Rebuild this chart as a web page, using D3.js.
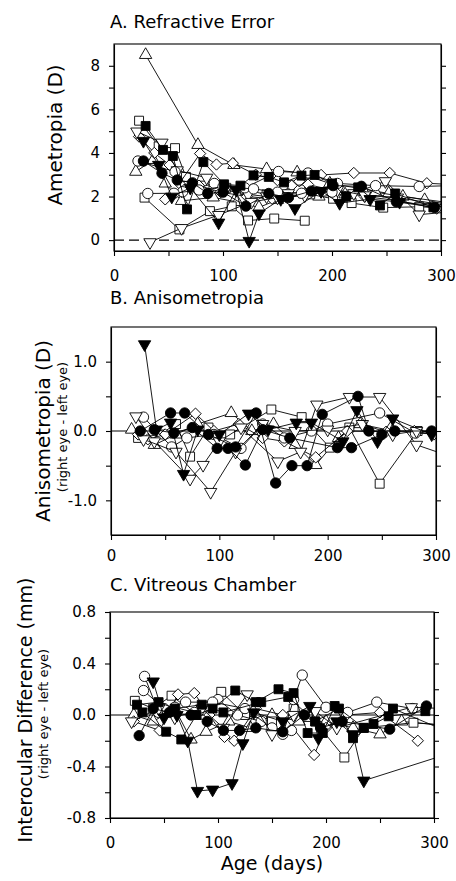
<!DOCTYPE html>
<html lang="en">
<head>
<meta charset="UTF-8">
<title>Refractive Error, Anisometropia, Vitreous Chamber</title>
<script src="https://d3js.org/d3.v7.min.js"></script>
<style>
  body { margin: 0; background: #fff; }
  svg { display: block; font-family: "DejaVu Sans", sans-serif; }
  .axis path, .axis line { stroke: #000; stroke-width: 1.1; }
  .axis text { font-size: 15px; fill: #000; font-family: "DejaVu Sans", sans-serif; }
  .title { font-size: 18px; fill: #000; }
  .ylab { font-size: 20px; fill: #000; }
  .ysub { font-size: 13px; fill: #000; }
  .xlab { font-size: 19px; fill: #000; }
  .series-line { fill: none; stroke: #000; stroke-width: 0.9; }
  .frame { fill: none; stroke: #000; stroke-width: 1.1; }
</style>
</head>
<body>
<svg id="chart" width="456" height="881"></svg>
<script>
// ---- data: [age in days, value] ----
// A. Refractive error (D)
const aTriUp1 = [[29,8.5],[77,4.37],[110,3.45],[140,3.26],[168,3.11],[198,2.6],[228,2.35],[252,2.14],[285,1.84],[310,1.6]];
const aTriUp2 = [[20,3.14],[36,3.68],[47,2.6],[62,1.8],[91,1.96],[113,1.75],[133,1.5],[150,1.85],[175,2.1],[188,2.0],[212,2.1],[240,2.2],[265,2.0],[310,1.7]];
const aSqOpen1 = [[23,5.48],[41,4.3],[56,4.22],[66,2.9],[83,2.5],[103,2.4],[120,2.3],[140,2.1],[160,2.05],[180,2.1],[201,1.9],[218,1.7],[247,1.49],[280,1.53],[310,1.45]];
const aSqOpen2 = [[28,1.95],[60,0.49],[88,1.33],[108,1.55],[123,0.9],[147,0.99],[175,0.89]];
const aSqFill = [[29,5.24],[45,4.14],[54,3.86],[67,1.41],[82,3.58],[101,2.56],[116,2.5],[128,2.97],[142,2.9],[156,2.65],[172,2.96],[184,2.99],[200,2.6],[213,2.0],[224,2.42],[244,1.59],[258,2.14],[293,1.5]];
const aDiam1 = [[23,4.75],[37,4.0],[51,3.45],[60,2.6],[79,3.97],[94,3.47],[109,3.53],[130,3.0],[150,2.75],[170,2.7],[190,2.99],[220,3.08],[253,3.08],[287,2.61],[310,2.55]];
const aDiam2 = [[47,1.87],[62,2.2],[78,2.5],[98,2.2],[122,2.0],[145,1.9],[163,2.5],[178,2.55],[200,2.3],[230,2.0],[262,1.8],[296,1.45]];
const aTriDnFill = [[27,4.55],[41,3.45],[53,1.99],[70,2.4],[96,0.8],[112,2.3],[124,-0.04],[133,1.22],[153,1.88],[166,1.46],[190,2.25],[207,1.7],[235,1.88],[262,1.75],[310,1.5]];
const aTriDnOpen1 = [[21,4.98],[44,4.47],[58,3.2],[85,2.86],[102,2.3],[123,2.1],[140,2.0],[160,2.15],[190,2.25],[220,2.15],[249,2.7],[280,1.17],[310,1.3]];
const aTriDnOpen2 = [[33,-0.1],[62,0.55],[96,1.15],[126,1.75],[150,1.95],[175,2.05],[205,2.3],[230,2.05],[260,1.95],[310,1.55]];
const aCircOpen1 = [[22,3.63],[56,3.14],[63,2.22],[92,2.6],[120,2.4],[151,3.15],[178,3.08],[205,2.6],[240,2.5],[280,2.46],[310,2.5]];
const aCircOpen2 = [[31,2.14],[55,2.15],[78,2.3],[100,2.45],[128,2.35],[150,2.2],[172,2.15],[200,2.2]];
const aCircFill = [[27,3.63],[44,3.07],[58,2.76],[72,2.63],[86,2.14],[100,2.2],[121,1.56],[142,2.14],[160,1.95],[181,2.25],[201,2.5],[227,2.47],[259,1.76],[294,1.5]];

// B. Anisometropia (D), right eye - left eye
const bTriDnFill = [[31,1.25],[42,0.02],[55,0.12],[67,-0.62],[80,0.02],[100,-0.05],[127,0.25],[145,0.02],[171,0.12],[185,0.12],[214,-0.15],[227,0.3],[246,-0.15],[260,0.18],[296,-0.05]];
const bCircFill1 = [[27,0.0],[55,0.26],[68,0.26],[90,-0.05],[115,-0.23],[134,0.26],[152,-0.75],[167,-0.5],[181,-0.5],[195,0.24],[228,0.5],[238,0.0],[262,0.0],[296,0.0]];
const bCircFill2 = [[40,0.02],[58,-0.03],[75,0.05],[98,-0.25],[108,-0.25],[124,-0.49],[140,0.02],[165,-0.1],[209,-0.24],[222,-0.24],[250,-0.05]];
const bTriDnOpen1 = [[23,0.21],[40,-0.15],[73,-0.69],[85,-0.49],[100,-0.15],[120,0.05],[154,-0.44],[175,-0.3],[190,0.38],[220,0.49],[248,0.49],[282,-0.2],[310,-0.35]];
const bTriDnOpen2 = [[30,-0.12],[60,-0.3],[92,-0.88],[115,-0.3],[140,0.1],[170,0.0],[200,0.02],[232,0.1],[260,-0.05],[282,0.0]];
const bSqOpen = [[25,-0.1],[45,-0.05],[60,0.1],[73,-0.37],[90,0.05],[110,-0.05],[148,0.31],[176,0.2],[202,-0.24],[220,0.05],[248,-0.76],[283,0.0],[310,-0.02]];
const bDiam = [[25,-0.05],[34,-0.12],[50,-0.05],[78,0.25],[95,0.0],[118,0.1],[140,-0.1],[160,-0.15],[189,-0.38],[218,0.0],[254,-0.01],[280,0.0],[298,-0.05]];
const bTriUp = [[19,0.02],[40,-0.2],[60,-0.05],[80,0.1],[111,0.26],[130,0.0],[150,0.1],[170,-0.2],[189,-0.49],[210,-0.1],[230,0.1],[260,0.0]];
const bCircOpen = [[30,0.2],[56,-0.23],[70,-0.1],[95,-0.05],[120,-0.25],[140,0.1],[160,-0.1],[185,0.0],[200,0.1],[248,0.26],[281,-0.03],[310,-0.05]];

// C. Vitreous chamber, interocular difference (mm)
const cTriDnFill = [[40,0.26],[50,-0.02],[62,0.0],[72,-0.2],[81,-0.59],[95,-0.58],[113,-0.53],[123,-0.22],[133,0.02],[160,-0.05],[185,0.07],[193,-0.18],[210,-0.05],[225,-0.15],[235,-0.51],[310,-0.31]];
const cCircOpen1 = [[32,0.3],[45,0.02],[60,0.06],[78,0.02],[100,0.12],[118,0.0],[140,-0.05],[160,-0.15],[170,0.12],[178,0.31],[200,0.06],[220,0.02],[247,0.1],[280,0.05]];
const cCircOpen2 = [[31,0.19],[50,0.05],[70,0.1],[95,0.1],[125,0.05],[150,-0.1],[168,-0.12]];
const cSqFill1 = [[30,0.02],[52,-0.13],[66,-0.19],[80,0.0],[95,0.05],[116,0.19],[135,0.1],[156,0.2],[170,0.17],[183,-0.14],[197,-0.14],[208,0.07],[225,-0.18],[244,-0.07],[258,-0.01],[292,0.03]];
const cSqFill2 = [[25,0.08],[45,0.1],[60,0.05],[85,0.08],[105,0.02],[140,0.1],[165,0.14],[190,-0.05],[212,0.05],[235,-0.1],[262,0.05],[310,-0.12]];
const cDiam = [[22,-0.05],[46,-0.12],[63,0.16],[78,0.17],[92,0.0],[106,-0.17],[115,-0.2],[135,0.05],[160,0.0],[189,-0.31],[200,-0.1],[219,0.0],[250,0.02],[285,-0.2]];
const cTriUp = [[22,0.0],[40,-0.05],[60,0.05],[75,-0.19],[89,-0.13],[110,-0.05],[130,-0.1],[150,0.0],[175,-0.05],[200,-0.05],[225,-0.1],[250,-0.15],[270,-0.05],[310,-0.08]];
const cSqOpen = [[23,0.11],[40,0.05],[57,0.15],[80,0.0],[103,0.18],[125,0.0],[150,-0.05],[170,0.05],[190,-0.05],[217,-0.33],[235,-0.1],[281,-0.06],[310,-0.08]];
const cCircFill = [[27,-0.16],[40,0.05],[55,0.02],[75,0.0],[90,-0.05],[105,-0.12],[120,-0.12],[135,-0.1],[160,-0.13],[180,0.0],[195,-0.1],[215,-0.05],[259,-0.11],[293,0.07]];
const cTriDnOpen = [[20,-0.05],[45,0.05],[60,-0.02],[85,0.05],[105,-0.1],[127,0.16],[150,-0.15],[170,0.0],[190,0.03],[210,-0.1],[279,0.06],[310,0.05]];

// ticks
const xTicks = [0, 50, 100, 150, 200, 250, 300];
const xTickLabels = [0, 100, 200, 300];
const aTicks = [0, 1, 2, 3, 4, 5, 6, 7, 8];
const aTickLabels = [0, 2, 4, 6, 8];
const bTicks = [-1.0, -0.5, 0, 0.5, 1.0];
const bTickLabels = [-1.0, 0, 1.0];
const cTicks = [-0.8, -0.6, -0.4, -0.2, 0, 0.2, 0.4, 0.6, 0.8];
const cTickLabels = [-0.8, -0.4, 0, 0.4, 0.8];

// ---- drawing ----
const svg = d3.select("#chart");

const panels = [
  {
    key: "A", title: "A. Refractive Error", titleY: 28,
    xRange: [114, 441], yDomain: [-0.5, 9], yRange: [251, 44],
    yTicks: aTicks, yLabels: aTickLabels, fmt: d => String(d), xPad: 14,
    zero: "dash",
    ylab: { text: "Ametropia (D)", x: 62, y: 135 },
    series: [
      [aTriUp1, "triUp", false], [aTriUp2, "triUp", false],
      [aSqOpen1, "square", false], [aSqOpen2, "square", false],
      [aDiam1, "diamond", false], [aDiam2, "diamond", false],
      [aTriDnOpen1, "triDown", false], [aTriDnOpen2, "triDown", false],
      [aCircOpen1, "circle", false], [aCircOpen2, "circle", false],
      [aCircFill, "circle", true], [aSqFill, "square", true],
      [aTriDnFill, "triDown", true]
    ]
  },
  {
    key: "B", title: "B. Anisometropia", titleY: 304,
    xRange: [111, 436], yDomain: [-1.5, 1.5], yRange: [535, 327],
    yTicks: bTicks, yLabels: bTickLabels, fmt: d => d.toFixed(1), xPad: 10,
    zero: "solid",
    ylab: { text: "Anisometropia (D)", x: 50, y: 431 },
    ysub: { text: "(right eye - left eye)", x: 67, y: 427 },
    series: [
      [bTriUp, "triUp", false], [bSqOpen, "square", false],
      [bDiam, "diamond", false], [bCircOpen, "circle", false],
      [bTriDnOpen1, "triDown", false], [bTriDnOpen2, "triDown", false],
      [bCircFill1, "circle", true], [bCircFill2, "circle", true],
      [bTriDnFill, "triDown", true]
    ]
  },
  {
    key: "C", title: "C. Vitreous Chamber", titleY: 591,
    xRange: [110, 434], yDomain: [-0.8, 0.8], yRange: [818, 612],
    yTicks: cTicks, yLabels: cTickLabels, fmt: d => d.toFixed(1), xPad: 14,
    zero: "solid",
    ylab: { text: "Interocular Difference (mm)", x: 32, y: 710, size: 19 },
    ysub: { text: "(right eye - left eye)", x: 48, y: 714 },
    series: [
      [cTriUp, "triUp", false], [cSqOpen, "square", false],
      [cDiam, "diamond", false], [cCircOpen1, "circle", false],
      [cCircOpen2, "circle", false], [cTriDnOpen, "triDown", false],
      [cCircFill, "circle", true], [cSqFill1, "square", true],
      [cSqFill2, "square", true], [cTriDnFill, "triDown", true]
    ]
  }
];

const symbols = {
  circle: { path: d3.symbol(d3.symbolCircle, 84)(), rot: 0 },
  square: { path: d3.symbol(d3.symbolSquare, 80)(), rot: 0 },
  triUp: { path: d3.symbol(d3.symbolTriangle, 66)(), rot: 0 },
  triDown: { path: d3.symbol(d3.symbolTriangle, 66)(), rot: 180 },
  diamond: { path: d3.symbol(d3.symbolSquare, 64)(), rot: 45 }
};

const near = (list, d) => list.some(v => Math.abs(v - d) < 1e-9);

panels.forEach(p => {
  const x = d3.scaleLinear().domain([0, 300]).range(p.xRange);
  const y = d3.scaleLinear().domain(p.yDomain).range(p.yRange);
  const top = p.yRange[1], bottom = p.yRange[0];
  const left = p.xRange[0], right = p.xRange[1];

  // title
  svg.append("text").attr("class", "title")
    .attr("x", 110).attr("y", p.titleY).text(p.title);

  // clip
  svg.append("clipPath").attr("id", "clip" + p.key)
    .append("rect").attr("x", left).attr("y", top)
    .attr("width", right - left).attr("height", bottom - top);

  // zero reference
  svg.append("line")
    .attr("x1", left).attr("x2", right)
    .attr("y1", y(0)).attr("y2", y(0))
    .attr("stroke", "#000")
    .attr("stroke-width", p.zero === "dash" ? 1.1 : 1)
    .attr("stroke-dasharray", p.zero === "dash" ? "10,5" : null);

  const plot = svg.append("g").attr("clip-path", `url(#clip${p.key})`);
  const line = d3.line().x(d => x(d[0])).y(d => y(d[1]));

  p.series.forEach(([data, kind, filled]) => {
    const g = plot.append("g");
    g.append("path").attr("class", "series-line").attr("d", line(data));
    g.selectAll("path.mark")
      .data(data)
      .join("path")
      .attr("class", "mark")
      .attr("d", symbols[kind].path)
      .attr("transform", d => `translate(${x(d[0])},${y(d[1])}) rotate(${symbols[kind].rot})`)
      .attr("fill", filled ? "#000" : "#fff")
      .attr("stroke", "#000")
      .attr("stroke-width", 0.9);
  });

  // frame
  svg.append("rect").attr("class", "frame")
    .attr("x", left).attr("y", top)
    .attr("width", right - left).attr("height", bottom - top);

  // axes
  svg.append("g").attr("class", "axis")
    .attr("transform", `translate(0,${bottom})`)
    .call(d3.axisBottom(x).tickValues(xTicks).tickSize(5).tickSizeOuter(0)
      .tickPadding(p.xPad)
      .tickFormat(d => near(xTickLabels, d) ? d : ""));

  svg.append("g").attr("class", "axis")
    .attr("transform", `translate(${left},0)`)
    .call(d3.axisLeft(y).tickValues(p.yTicks).tickSize(5).tickSizeOuter(0)
      .tickPadding(9)
      .tickFormat(d => near(p.yLabels, d) ? p.fmt(d) : ""));

  svg.append("g").attr("class", "axis")
    .attr("transform", `translate(${right},0)`)
    .call(d3.axisRight(y).tickValues(p.yTicks).tickSize(5).tickSizeOuter(0)
      .tickFormat(""));

  // y labels
  svg.append("text").attr("class", "ylab")
    .attr("transform", `translate(${p.ylab.x},${p.ylab.y}) rotate(-90)`)
    .attr("text-anchor", "middle")
    .style("font-size", p.ylab.size ? p.ylab.size + "px" : null)
    .text(p.ylab.text);
  if (p.ysub) {
    svg.append("text").attr("class", "ysub")
      .attr("transform", `translate(${p.ysub.x},${p.ysub.y}) rotate(-90)`)
      .attr("text-anchor", "middle").text(p.ysub.text);
  }
});

svg.append("text").attr("class", "xlab")
  .attr("x", 272).attr("y", 870)
  .attr("text-anchor", "middle").text("Age (days)");
</script>
</body>
</html>
